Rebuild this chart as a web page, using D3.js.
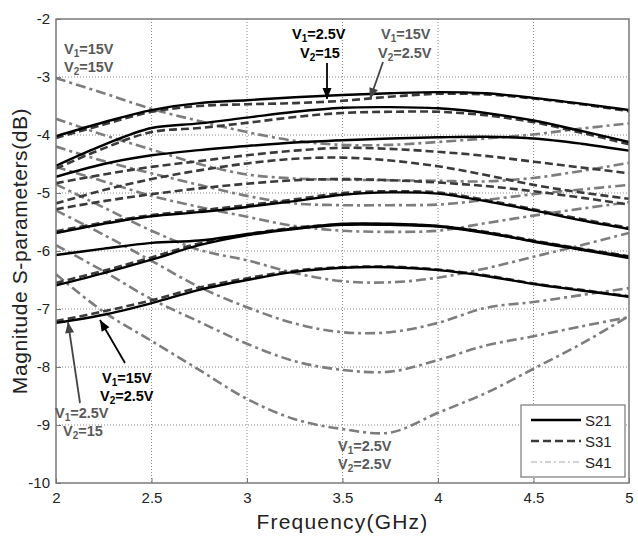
<!DOCTYPE html>
<html><head><meta charset="utf-8">
<script src="https://cdn.jsdelivr.net/npm/d3@7"></script>
<style>body{margin:0;background:#fff}svg{display:block}text{font-family:"Liberation Sans",Arial,sans-serif}</style>
</head><body><svg id="c" width="638" height="536"></svg>
<script>
const freqs = [2,2.25,2.5,2.75,3,3.25,3.5,3.75,4,4.25,4.5,4.75,5];
const xTicks = [2,2.5,3,3.5,4,4.5,5];
const yTicks = [-2,-3,-4,-5,-6,-7,-8,-9,-10];
const S21 = [
 [-4.02,-3.78,-3.57,-3.45,-3.40,-3.35,-3.31,-3.28,-3.26,-3.28,-3.36,-3.46,-3.57],
 [-4.53,-4.17,-3.88,-3.80,-3.70,-3.60,-3.53,-3.52,-3.54,-3.62,-3.75,-3.93,-4.12],
 [-4.72,-4.50,-4.35,-4.26,-4.19,-4.13,-4.09,-4.06,-4.04,-4.03,-4.06,-4.15,-4.27],
 [-5.69,-5.53,-5.40,-5.33,-5.24,-5.14,-5.03,-4.99,-5.01,-5.14,-5.30,-5.47,-5.62],
 [-6.07,-5.96,-5.86,-5.82,-5.71,-5.61,-5.53,-5.53,-5.57,-5.68,-5.84,-5.98,-6.12],
 [-6.59,-6.38,-6.15,-5.90,-5.73,-5.62,-5.55,-5.55,-5.58,-5.69,-5.83,-5.97,-6.10],
 [-7.24,-7.10,-6.90,-6.67,-6.50,-6.36,-6.29,-6.28,-6.33,-6.43,-6.57,-6.68,-6.79]
];
const S31 = [
 [-4.05,-3.82,-3.60,-3.50,-3.47,-3.45,-3.41,-3.34,-3.29,-3.30,-3.37,-3.47,-3.59],
 [-4.58,-4.23,-3.95,-3.88,-3.79,-3.69,-3.62,-3.60,-3.60,-3.66,-3.78,-3.96,-4.16],
 [-4.83,-4.68,-4.55,-4.45,-4.35,-4.27,-4.22,-4.24,-4.29,-4.36,-4.46,-4.56,-4.66],
 [-5.18,-4.95,-4.76,-4.61,-4.49,-4.41,-4.39,-4.44,-4.54,-4.69,-4.86,-4.99,-5.10],
 [-5.28,-5.14,-5.02,-4.92,-4.84,-4.78,-4.76,-4.78,-4.82,-4.88,-4.97,-5.08,-5.20],
 [-5.66,-5.51,-5.38,-5.30,-5.21,-5.11,-5.00,-4.97,-4.99,-5.12,-5.28,-5.45,-5.60],
 [-6.55,-6.34,-6.11,-5.87,-5.71,-5.60,-5.54,-5.54,-5.57,-5.67,-5.82,-5.96,-6.09],
 [-7.21,-7.04,-6.85,-6.63,-6.47,-6.34,-6.28,-6.27,-6.32,-6.42,-6.56,-6.67,-6.78]
];
const S41 = [
 [-3.02,-3.28,-3.55,-3.76,-3.95,-4.10,-4.17,-4.17,-4.12,-4.06,-3.99,-3.89,-3.80],
 [-3.72,-4.00,-4.25,-4.50,-4.68,-4.75,-4.77,-4.78,-4.79,-4.80,-4.74,-4.62,-4.48],
 [-4.20,-4.45,-4.66,-4.86,-5.05,-5.18,-5.21,-5.21,-5.20,-5.12,-5.02,-4.94,-4.86],
 [-4.55,-4.80,-5.05,-5.24,-5.41,-5.57,-5.65,-5.67,-5.65,-5.52,-5.39,-5.27,-5.16],
 [-4.85,-5.25,-5.65,-5.98,-6.16,-6.38,-6.52,-6.54,-6.46,-6.30,-6.10,-5.90,-5.69],
 [-5.30,-5.72,-6.17,-6.62,-6.97,-7.25,-7.40,-7.40,-7.24,-6.98,-6.88,-6.76,-6.64],
 [-5.90,-6.35,-6.83,-7.22,-7.60,-7.90,-8.05,-8.08,-7.88,-7.63,-7.47,-7.30,-7.14],
 [-6.40,-7.05,-7.55,-8.05,-8.55,-8.90,-9.07,-9.13,-8.79,-8.45,-8.03,-7.60,-7.12]
];
const legendLabels = ["S21","S31","S41"];

const svg = d3.select("#c");
const m = {l:56, t:19, r:629, b:483};
const x = d3.scaleLinear().domain([2,5]).range([m.l, m.r]);
const y = d3.scaleLinear().domain([-10,-2]).range([m.b, m.t]);

// grid
const g = svg.append("g");
g.selectAll(".gx").data(xTicks.slice(1,-1)).join("line")
  .attr("x1", d=>x(d)).attr("x2", d=>x(d)).attr("y1", m.t).attr("y2", m.b)
  .attr("stroke","#8a8a8a").attr("stroke-width",1).attr("stroke-dasharray","1,2");
g.selectAll(".gy").data(yTicks.slice(1,-1)).join("line")
  .attr("y1", d=>y(d)).attr("y2", d=>y(d)).attr("x1", m.l).attr("x2", m.r)
  .attr("stroke","#8a8a8a").attr("stroke-width",1).attr("stroke-dasharray","1,2");

// axes
const xa = svg.append("g").attr("transform",`translate(0,${m.b})`)
  .call(d3.axisBottom(x).tickValues(xTicks).tickFormat(d=>String(d)).tickSize(-5).tickPadding(9));
const ya = svg.append("g").attr("transform",`translate(${m.l},0)`)
  .call(d3.axisLeft(y).tickValues(yTicks).tickFormat(d=>String(d)).tickSize(-5).tickPadding(6));
[xa,ya].forEach(a=>{
  a.select(".domain").remove();
  a.selectAll(".tick line").attr("stroke","#777");
  a.selectAll(".tick text").attr("font-size",15).attr("fill","#222")
   .attr("font-family",'"Liberation Sans",Arial,sans-serif');
});

svg.append("clipPath").attr("id","cp").append("rect")
  .attr("x",m.l).attr("y",m.t).attr("width",m.r-m.l).attr("height",m.b-m.t);

const line = d3.line().x((d,i)=>x(freqs[i])).y(d=>y(d)).curve(d3.curveCatmullRom.alpha(0.5));
const plot = svg.append("g").attr("clip-path","url(#cp)");

plot.selectAll(".s41").data(S41).join("path")
  .attr("d", line).attr("fill","none").attr("stroke","#7d7d7d").attr("stroke-width",2.6)
  .attr("stroke-dasharray","10,4,3,4");
plot.selectAll(".s31").data(S31).join("path")
  .attr("d", line).attr("fill","none").attr("stroke","#3a3a3a").attr("stroke-width",2.6)
  .attr("stroke-dasharray","8,4");
plot.selectAll(".s21").data(S21).join("path")
  .attr("d", line).attr("fill","none").attr("stroke","#000").attr("stroke-width",2.4);

// frame
svg.append("rect").attr("x",m.l).attr("y",m.t).attr("width",m.r-m.l).attr("height",m.b-m.t)
  .attr("fill","none").attr("stroke","#7a7a7a").attr("stroke-width",1.5);

// axis titles
svg.append("text").attr("x",(m.l+m.r)/2).attr("y",529).attr("text-anchor","middle")
  .attr("font-size",21).attr("fill","#222").attr("letter-spacing","1.2").text("Frequency(GHz)");
svg.append("text").attr("transform","translate(27,251) rotate(-90)").attr("text-anchor","middle")
  .attr("font-size",21).attr("fill","#222").attr("letter-spacing","0.6").text("Magnitude  S-parameters(dB)");

// annotations
function vlabel(px, py, sub, rest, color){
  const t = svg.append("text").attr("x",px).attr("y",py).attr("font-size",14.5)
    .attr("font-weight","bold").attr("fill",color);
  t.append("tspan").text("V");
  t.append("tspan").attr("font-size",10).attr("dy",3).text(sub);
  t.append("tspan").attr("dy",-3).text(rest);
}
const gray = "#5a5a5a";
vlabel(64,54,"1","=15V",gray);
vlabel(64,72,"2","=15V",gray);
vlabel(292,39,"1","=2.5V","#000");
vlabel(300,58,"2","=15","#000");
vlabel(381,39,"1","=15V",gray);
vlabel(378,58,"2","=2.5V",gray);
vlabel(102,383,"1","=15V","#000");
vlabel(100,401,"2","=2.5V","#000");
vlabel(55,418,"1","=2.5V",gray);
vlabel(63,436,"2","=15",gray);
vlabel(338,451,"1","=2.5V",gray);
vlabel(338,469,"2","=2.5V",gray);

function arrow(x1,y1,x2,y2,color){
  svg.append("line").attr("x1",x1).attr("y1",y1).attr("x2",x2).attr("y2",y2)
    .attr("stroke",color).attr("stroke-width",1.8);
  const a = Math.atan2(y2-y1,x2-x1), L=11, W=4.5;
  const bx = x2 - L*Math.cos(a), by = y2 - L*Math.sin(a);
  const px = -Math.sin(a)*W, py = Math.cos(a)*W;
  svg.append("path").attr("d",`M${x2},${y2}L${bx+px},${by+py}L${bx-px},${by-py}Z`).attr("fill",color);
}
arrow(327,63,327,99,"#000");
arrow(383,62,370,99,"#444");
arrow(125,363,100,320,"#000");
arrow(80,403,68,322,"#444");

// legend
const lg = svg.append("g");
lg.append("rect").attr("x",521).attr("y",405).attr("width",104).attr("height",72)
  .attr("fill","#fff").attr("stroke","#777").attr("stroke-width",1.2);
const lstyles = [
  {c:"#000",w:2.6,d:null},
  {c:"#3a3a3a",w:2.6,d:"8,4"},
  {c:"#c4c4c4",w:1.3,d:"6,3,2,3"}
];
legendLabels.forEach((lab,i)=>{
  const yy = 420 + i*21;
  const l = lg.append("line").attr("x1",531).attr("x2",581).attr("y1",yy).attr("y2",yy)
    .attr("stroke",lstyles[i].c).attr("stroke-width",lstyles[i].w);
  if(lstyles[i].d) l.attr("stroke-dasharray",lstyles[i].d);
  lg.append("text").attr("x",585).attr("y",yy+5.5).attr("font-size",15).attr("fill","#222").text(lab);
});
</script></body></html>
